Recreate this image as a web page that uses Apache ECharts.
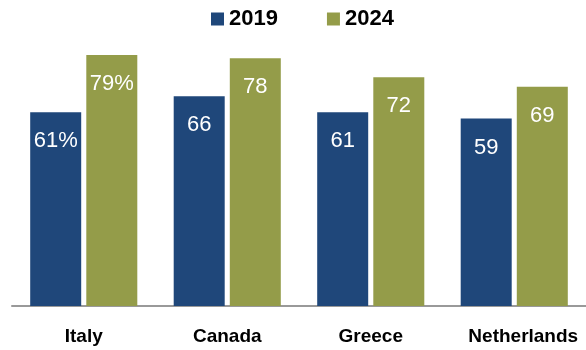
<!DOCTYPE html>
<html><head><meta charset="utf-8">
<script src="https://cdn.jsdelivr.net/npm/echarts@6/dist/echarts.min.js"></script>
<style>html,body{margin:0;padding:0;background:#fff}#c{width:586px;height:350px}</style>
</head><body><div id="c"></div>
<script>
const categories = ['Italy', 'Canada', 'Greece', 'Netherlands'];
const seriesNames = ['2019', '2024'];
const values2019 = [61, 66, 61, 59];
const values2024 = [79, 78, 72, 69];

const chart = echarts.init(document.getElementById('c'), null, {renderer: 'canvas'});
const font = '"Liberation Sans", Arial, sans-serif';
const labelCfg = {
  show: true, position: 'insideTop', distance: 18, color: '#fff',
  fontSize: 22, fontFamily: font,
  formatter: p => p.dataIndex === 0 ? p.value + '%' : String(p.value)
};
const catText = {fontSize: 19, fontWeight: 'bold', color: '#000', fontFamily: font};
chart.setOption({
  animation: false,
  legend: {
    data: seriesNames, left: 206, top: 3, icon: 'rect', itemWidth: 13, itemHeight: 13,
    itemGap: 49, textStyle: {fontSize: 22, fontWeight: 'bold', color: '#000', fontFamily: font}
  },
  grid: {left: 12, right: 0, top: 55, bottom: 44},
  xAxis: {
    type: 'category', data: categories,
    axisLine: {lineStyle: {color: '#999', width: 2}}, axisTick: {show: false},
    axisLabel: Object.assign({}, catText, {
      margin: 21, interval: 0,
      formatter: (v, i) => i === categories.length - 1 ? '{s|' + v + '}' : '{n|' + v + '}',
      rich: {n: catText, s: Object.assign({}, catText, {padding: [0, 0, 0, 18]})}
    })
  },
  yAxis: {type: 'value', min: 0, max: 79, show: false, splitLine: {show: false}},
  series: [
    {name: seriesNames[0], type: 'bar', data: values2019, barWidth: 51, barGap: '10%',
     itemStyle: {color: '#1f477a'}, label: labelCfg},
    {name: seriesNames[1], type: 'bar', data: values2024, barWidth: 51,
     itemStyle: {color: '#949c49'}, label: labelCfg}
  ]
});
</script></body></html>
